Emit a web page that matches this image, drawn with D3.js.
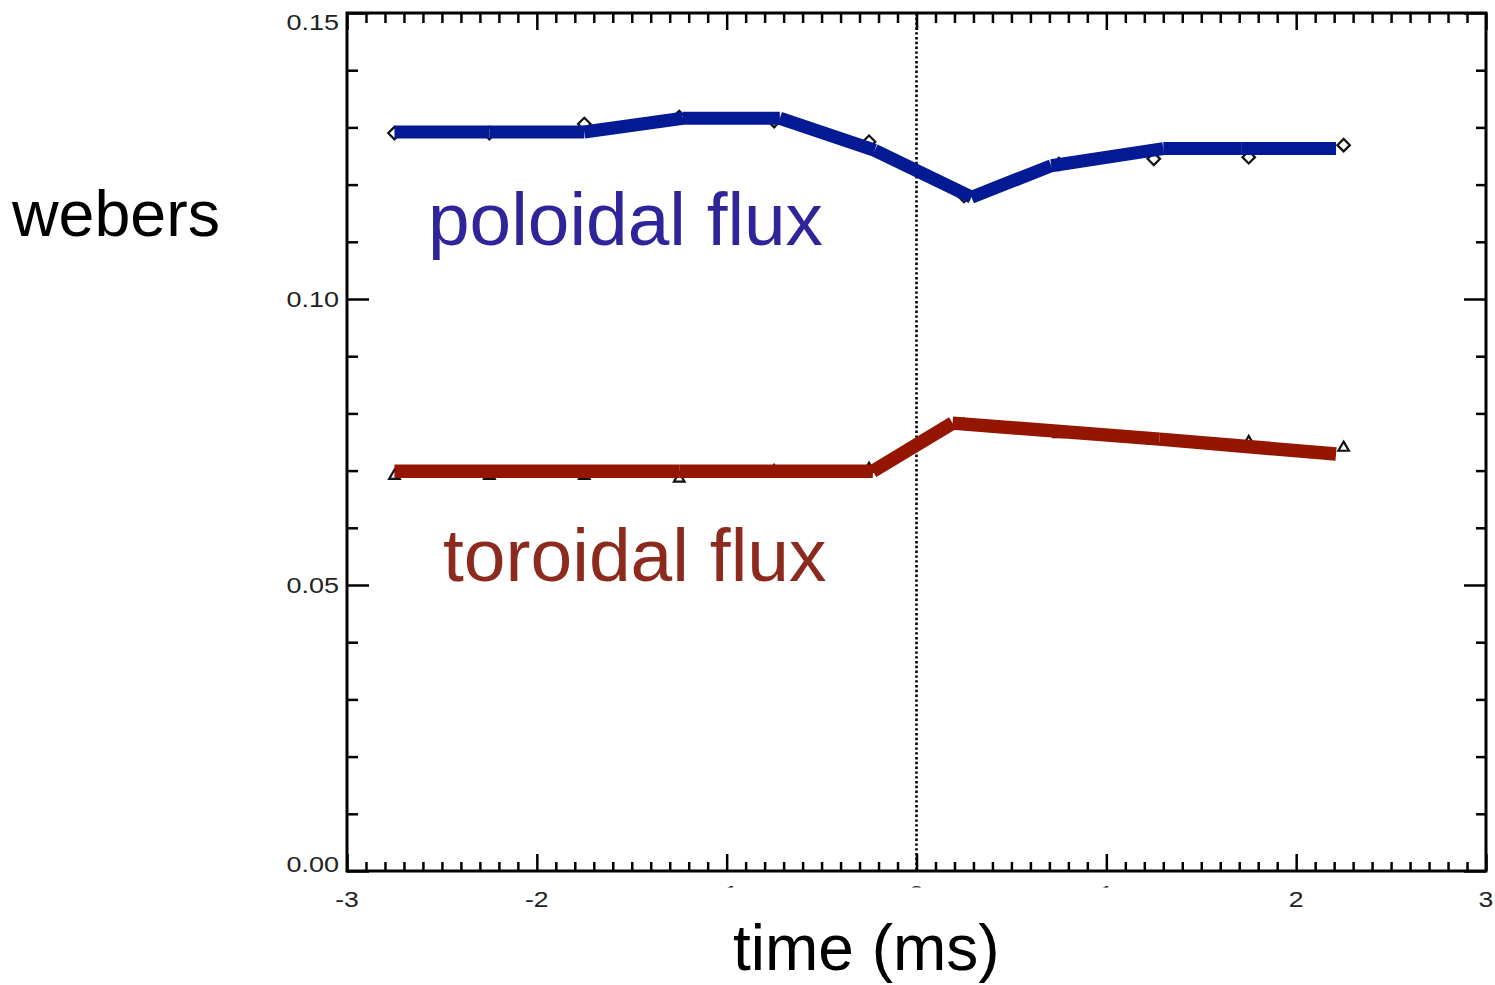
<!DOCTYPE html>
<html>
<head>
<meta charset="utf-8">
<script src="https://cdn.jsdelivr.net/npm/d3@7"></script>
<style>
  html, body { margin: 0; padding: 0; background: #fff; }
  svg { display: block; font-family: "Liberation Sans", Arial, Helvetica, sans-serif; }
</style>
</head>
<body>
<script>
// Tick values
const xTicks = [-3, -2, -1, 0, 1, 2, 3];
const yTicks = [0.00, 0.05, 0.10, 0.15];
// Labels printed on the time axis (the ones at -1, 0, 1 are only slivers)
const xLabelsShown = [-3, -2, 2, 3];
const xLabelsSliver = [-1, 0, 1];

// Sample times (ms)
const time = [-2.75, -2.25, -1.75, -1.25, -0.75, -0.25, 0.25, 0.75, 1.25, 1.75, 2.25];
// Measured flux at each sample (webers)
const poloidalPts = [0.1290, 0.1290, 0.1306, 0.1318, 0.1311, 0.1275, 0.1180, 0.1236, 0.1245, 0.1248, 0.1269];
const toroidalPts = [0.0691, 0.0691, 0.0691, 0.0686, 0.0699, 0.0703, 0.0780, 0.0764, 0.0752, 0.0750, 0.0740];

// Trend curves drawn over the samples
const poloidalLineT = [-2.75, -2.25, -1.75, -1.23, -0.72, -0.22, 0.29, 0.71, 1.30, 1.71, 2.21];
const poloidalLineV = [0.1292, 0.1292, 0.1292, 0.1316, 0.1316, 0.1260, 0.1178, 0.1233, 0.1263, 0.1263, 0.1263];
const toroidalLineT = [-2.75, -1.25, -0.23, 0.19, 1.28, 2.21];
const toroidalLineV = [0.0699, 0.0699, 0.0699, 0.0783, 0.0755, 0.0729];

const W = 1495, H = 985;
const svg = d3.select("body").append("svg").attr("width", W).attr("height", H);

const x = d3.scaleLinear().domain([-3, 3]).range([347, 1486]);
const y = d3.scaleLinear().domain([0, 0.15]).range([871, 13]);

const minorX = d3.range(-30, 31).map(i => i / 10).filter(v => !xTicks.includes(v));
const minorY = d3.range(0, 16).map(i => i / 100).filter(v => !yTicks.some(t => Math.abs(t - v) < 1e-9));

function tickGroup(axis, tx, ty) {
  const g = svg.append("g").attr("transform", `translate(${tx},${ty})`).call(axis);
  g.select(".domain").remove();
  g.selectAll("text").remove();
  g.selectAll("line").attr("stroke", "#000").attr("stroke-width", 2.5);
  return g;
}

// Bottom ticks (inward)
tickGroup(d3.axisBottom(x).tickValues(minorX).tickSize(-9).tickFormat(""), 0, y(0));
tickGroup(d3.axisBottom(x).tickValues(xTicks).tickSize(-17).tickFormat(""), 0, y(0));
// Top ticks (inward)
tickGroup(d3.axisTop(x).tickValues(minorX).tickSize(-10).tickFormat(""), 0, y(0.15));
tickGroup(d3.axisTop(x).tickValues(xTicks).tickSize(-17).tickFormat(""), 0, y(0.15));
// Left ticks (inward)
tickGroup(d3.axisLeft(y).tickValues(minorY).tickSize(-11).tickFormat(""), x(-3), 0);
tickGroup(d3.axisLeft(y).tickValues(yTicks).tickSize(-22).tickFormat(""), x(-3), 0);
// Right ticks (inward)
tickGroup(d3.axisRight(y).tickValues(minorY).tickSize(-10).tickFormat(""), x(3), 0);
tickGroup(d3.axisRight(y).tickValues(yTicks).tickSize(-22).tickFormat(""), x(3), 0);

// Frame
svg.append("rect")
  .attr("x", x(-3)).attr("y", y(0.15))
  .attr("width", x(3) - x(-3)).attr("height", y(0) - y(0.15))
  .attr("fill", "none").attr("stroke", "#000").attr("stroke-width", 3);

// Dotted marker at t = 0
svg.append("line")
  .attr("x1", x(0)).attr("x2", x(0))
  .attr("y1", y(0.15)).attr("y2", y(0))
  .attr("stroke", "#000").attr("stroke-width", 2.6)
  .attr("stroke-dasharray", "2.4,2.4");

// Y tick labels
const fmtY = d3.format(".2f");
svg.append("g").selectAll("text").data(yTicks).join("text")
  .attr("transform", d => {
    const base = Math.min(Math.max(y(d) + 8, y(0.15) + 17), y(0) + 1);
    return `translate(339,${base}) scale(1.2,1)`;
  })
  .attr("text-anchor", "end")
  .attr("font-size", 22.5)
  .attr("fill", "#222")
  .text(fmtY);

// X tick labels
svg.append("g").selectAll("text").data(xLabelsShown).join("text")
  .attr("transform", d => `translate(${x(d)},907) scale(1.18,1)`)
  .attr("text-anchor", "middle")
  .attr("font-size", 22.5)
  .attr("fill", "#222")
  .text(d => d);

// Labels that only show their top edge
svg.append("clipPath").attr("id", "sliver")
  .append("rect").attr("x", 0).attr("y", 885).attr("width", W).attr("height", 2.5);
svg.append("g").attr("clip-path", "url(#sliver)")
  .selectAll("text").data(xLabelsSliver).join("text")
  .attr("transform", d => `translate(${x(d)},901) scale(1.18,1)`)
  .attr("text-anchor", "middle")
  .attr("font-size", 22.5)
  .attr("fill", "#222")
  .text(d => d);

// Sample markers
const diamond = d3.symbol().type(d3.symbolDiamond2).size(100);
const triangle = d3.symbol().type(d3.symbolTriangle2).size(80);

svg.append("g").selectAll("path").data(time).join("path")
  .attr("d", diamond)
  .attr("transform", (t, i) => `translate(${x(t)},${y(poloidalPts[i])})`)
  .attr("fill", "#fff").attr("stroke", "#111").attr("stroke-width", 2.2);

svg.append("g").selectAll("path").data(time).join("path")
  .attr("d", triangle)
  .attr("transform", (t, i) => `translate(${x(t)},${y(toroidalPts[i])})`)
  .attr("fill", "#fff").attr("stroke", "#111").attr("stroke-width", 2.2);

// Thick trend curves, one butt-capped stroke per segment
function segments(ts, vs) {
  return d3.pairs(ts.map((t, i) => [t, vs[i]]));
}
const seg = d3.line().x(d => x(d[0])).y(d => y(d[1]));

svg.append("g").selectAll("path").data(segments(poloidalLineT, poloidalLineV)).join("path")
  .attr("d", seg)
  .attr("fill", "none").attr("stroke", "#041a94").attr("stroke-width", 13)
  .attr("stroke-linecap", "butt");

svg.append("g").selectAll("path").data(segments(toroidalLineT, toroidalLineV)).join("path")
  .attr("d", seg)
  .attr("fill", "none").attr("stroke", "#951600").attr("stroke-width", 13.5)
  .attr("stroke-linecap", "butt");

// Annotations
svg.append("text").attr("x", 12).attr("y", 236)
  .attr("font-size", 64.5).attr("fill", "#000").text("webers");

svg.append("text").attr("x", 428).attr("y", 245)
  .attr("font-size", 74.8).attr("fill", "#30249a").text("poloidal flux");

svg.append("text").attr("x", 443).attr("y", 581)
  .attr("font-size", 75).attr("fill", "#8c2a1e").text("toroidal flux");

svg.append("text").attr("x", 733).attr("y", 970)
  .attr("font-size", 64).attr("fill", "#000").text("time (ms)");
</script>
</body>
</html>
